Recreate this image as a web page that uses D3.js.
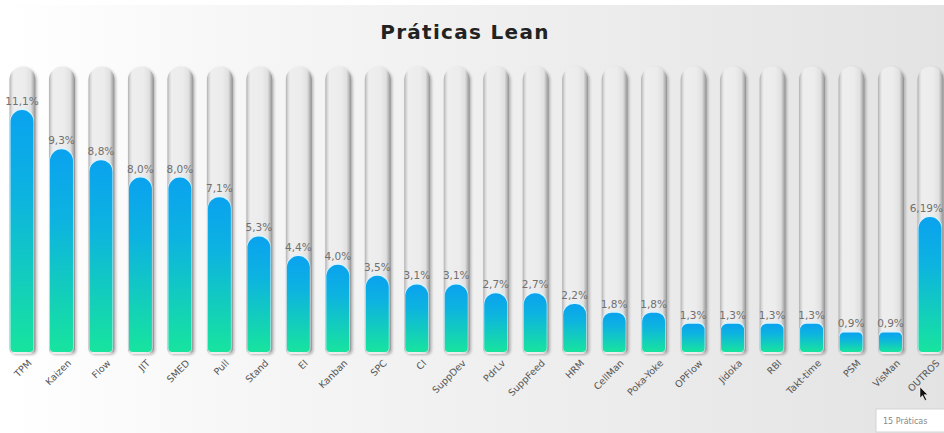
<!DOCTYPE html>
<html>
<head>
<meta charset="utf-8">
<script src="https://cdn.jsdelivr.net/npm/d3@7"></script>
<style>
  html, body { margin: 0; padding: 0; background: #fff; }
  svg { display: block; }
</style>
</head>
<body>
<div id="chart"></div>
<script>
// Practice abbreviations and their share of mentions (%)
const categories = ["TPM", "Kaizen", "Flow", "JIT", "SMED", "Pull", "Stand", "EI", "Kanban", "SPC",
  "CI", "SuppDev", "PdrLv", "SuppFeed", "HRM", "CellMan", "Poka-Yoke", "OPFlow", "Jidoka", "RBI",
  "Takt-time", "PSM", "VisMan", "OUTROS"];
const values = [11.1, 9.3, 8.8, 8.0, 8.0, 7.1, 5.3, 4.4, 4.0, 3.5,
  3.1, 3.1, 2.7, 2.7, 2.2, 1.8, 1.8, 1.3, 1.3, 1.3,
  1.3, 0.9, 0.9, 6.19];
const valueLabels = ["11,1%", "9,3%", "8,8%", "8,0%", "8,0%", "7,1%", "5,3%", "4,4%", "4,0%", "3,5%",
  "3,1%", "3,1%", "2,7%", "2,7%", "2,2%", "1,8%", "1,8%", "1,3%", "1,3%", "1,3%",
  "1,3%", "0,9%", "0,9%", "6,19%"];
const trackMax = [13];
const title = "Práticas Lean";
const tooltipText = "15 Práticas";

const W = 944, H = 433;
const svg = d3.select("#chart").append("svg").attr("width", W).attr("height", H);
const defs = svg.append("defs");

// page background: white on the left fading to light grey on the right
const bg = defs.append("linearGradient").attr("id", "bgGrad").attr("x1", 0).attr("x2", 1).attr("y1", 0).attr("y2", 0);
bg.append("stop").attr("offset", "0%").attr("stop-color", "#ffffff");
bg.append("stop").attr("offset", "30%").attr("stop-color", "#f5f5f5");
bg.append("stop").attr("offset", "100%").attr("stop-color", "#e3e3e3");

// glassy track shading
const tg = defs.append("linearGradient").attr("id", "trackGrad").attr("x1", 0).attr("x2", 1).attr("y1", 0).attr("y2", 0);
[["0%", "#b0b0b0"], ["8%", "#d8d8d8"], ["16%", "#eeeeee"], ["60%", "#ececec"], ["82%", "#e0e0e0"], ["92%", "#b4b4b4"], ["100%", "#8e8e8e"]]
  .forEach(([o, c]) => tg.append("stop").attr("offset", o).attr("stop-color", c));

// bar fill: blue at the top, green at the base
const fg = defs.append("linearGradient").attr("id", "fillGrad").attr("x1", 0).attr("x2", 0).attr("y1", 0).attr("y2", 1);
fg.append("stop").attr("offset", "0%").attr("stop-color", "#0aa2ef");
fg.append("stop").attr("offset", "35%").attr("stop-color", "#0db3e0");
fg.append("stop").attr("offset", "100%").attr("stop-color", "#17e49e");

const shadow = defs.append("filter").attr("id", "trackShadow").attr("x", "-30%").attr("y", "-5%").attr("width", "160%").attr("height", "110%");
shadow.append("feDropShadow").attr("dx", 1.5).attr("dy", 1).attr("stdDeviation", 1.2).attr("flood-color", "#000").attr("flood-opacity", 0.25);

svg.append("rect").attr("width", W).attr("height", H).attr("fill", "#fff");
svg.append("rect").attr("y", 5).attr("width", W).attr("height", H - 5).attr("fill", "url(#bgGrad)");

const x = d3.scalePoint().domain(categories).range([22, 930]);
const y = d3.scaleLinear().domain([0, trackMax[0]]).range([352, 68.6]);

const trackW = 26, fillW = 23;

svg.append("text")
  .attr("x", 465).attr("y", 39)
  .attr("text-anchor", "middle")
  .attr("font-family", "'DejaVu Sans', sans-serif")
  .attr("font-weight", "bold")
  .attr("font-size", 20)
  .attr("letter-spacing", 1.3)
  .attr("fill", "#222")
  .text(title);

const data = categories.map((c, i) => ({ c, v: values[i], label: valueLabels[i] }));

// rounded-top column outline
function columnPath(cx, w, top, bottom, rTop, rBot) {
  const x0 = cx - w / 2, x1 = cx + w / 2;
  const p = d3.path();
  p.moveTo(x0, bottom - rBot);
  p.lineTo(x0, top + rTop);
  p.arcTo(x0, top, x0 + rTop, top, rTop);
  p.lineTo(x1 - rTop, top);
  p.arcTo(x1, top, x1, top + rTop, rTop);
  p.lineTo(x1, bottom - rBot);
  p.arcTo(x1, bottom, x1 - rBot, bottom, rBot);
  p.lineTo(x0 + rBot, bottom);
  p.arcTo(x0, bottom, x0, bottom - rBot, rBot);
  p.closePath();
  return p.toString();
}

const g = svg.append("g");

// tracks
g.selectAll("path.track").data(data).join("path")
  .attr("class", "track")
  .attr("d", d => columnPath(x(d.c) + 0.5, trackW, y(trackMax[0]) - 2, y(0) + 2, trackW / 2, 5))
  .attr("fill", "url(#trackGrad)")
  .attr("filter", "url(#trackShadow)");

// light rim above each filled column
g.selectAll("path.rim").data(data).join("path")
  .attr("class", "rim")
  .attr("d", d => {
    const h = y(0) - y(d.v);
    const r = Math.min(fillW / 2, Math.max(4, h * 0.22));
    return columnPath(x(d.c), fillW + 1, y(d.v) - 2, y(0), r + 1, 4);
  })
  .attr("fill", "#d9f3ff")
  .attr("opacity", 0.9);

// filled columns
g.selectAll("path.fill").data(data).join("path")
  .attr("class", "fill")
  .attr("d", d => {
    const h = y(0) - y(d.v);
    const r = Math.min(fillW / 2, Math.max(4, h * 0.22));
    return columnPath(x(d.c), fillW, y(d.v), y(0), r, 4);
  })
  .attr("fill", "url(#fillGrad)");

// value labels, kept inside the right edge
g.selectAll("text.val").data(data).join("text")
  .attr("class", "val")
  .attr("y", d => y(d.v) - 5)
  .attr("text-anchor", "middle")
  .attr("font-family", "'DejaVu Sans', sans-serif")
  .attr("font-size", 10.5)
  .attr("fill", "#707070")
  .text(d => d.label)
  .attr("x", function (d) {
    const half = this.getComputedTextLength() / 2;
    return Math.min(x(d.c), W - half - 1);
  });

// category axis with slanted labels
const xAxis = svg.append("g")
  .attr("transform", `translate(0, ${y(0) + 7})`)
  .call(d3.axisBottom(x).tickSize(0).tickPadding(0));
xAxis.select(".domain").remove();
xAxis.selectAll("text")
  .attr("font-family", "'DejaVu Sans', sans-serif")
  .attr("font-size", 9.5)
  .attr("fill", "#555")
  .attr("text-anchor", "end")
  .attr("dy", "0.7em")
  .attr("transform", "translate(5,0) rotate(-45)");

// hover tooltip and pointer
const last = categories[categories.length - 1];
svg.append("path")
  .attr("d", (() => {
    const px = x(last) - 10, py = y(0) + 35;
    return `M${px},${py} l0,11 l2.5,-2.5 l2.5,5 l1.6,-0.8 l-2.5,-5 l3.6,0 z`;
  })())
  .attr("fill", "#111").attr("stroke", "#fff").attr("stroke-width", 0.5);

const tip = svg.append("g").attr("transform", `translate(${x(last) - 54}, 409)`);
tip.append("rect").attr("width", 80).attr("height", 23).attr("fill", "#fff").attr("stroke", "#d4d4d4");
tip.append("text").attr("x", 7).attr("y", 15)
  .attr("font-family", "'DejaVu Sans', sans-serif").attr("font-size", 8)
  .attr("fill", "#888").text(tooltipText);
</script>
</body>
</html>
